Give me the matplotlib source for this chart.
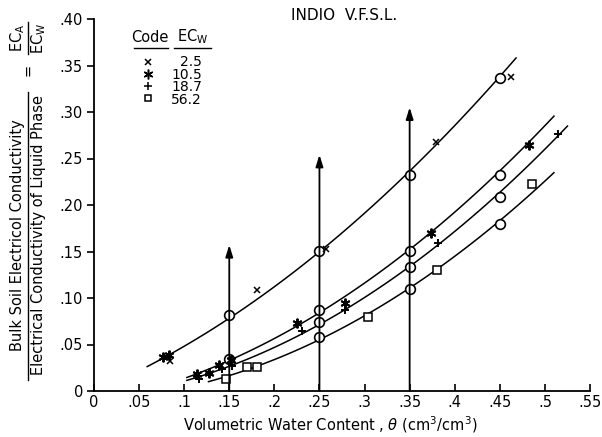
import numpy as np
import matplotlib
matplotlib.use("Agg")
import matplotlib.pyplot as plt

x_25 = [0.084, 0.181, 0.257, 0.379, 0.462]
y_25 = [0.032, 0.109, 0.153, 0.268, 0.338]
x_105 = [0.077, 0.083, 0.114, 0.128, 0.139, 0.152, 0.225, 0.278, 0.374, 0.482]
y_105 = [0.037, 0.039, 0.018, 0.019, 0.028, 0.033, 0.073, 0.095, 0.170, 0.265]
x_187 = [0.116, 0.127, 0.142, 0.153, 0.231, 0.278, 0.381, 0.515]
y_187 = [0.013, 0.018, 0.024, 0.027, 0.064, 0.087, 0.159, 0.276]
x_562 = [0.146, 0.170, 0.181, 0.304, 0.380, 0.486]
y_562 = [0.013, 0.026, 0.026, 0.080, 0.130, 0.223]

# fitted curves: points along each drawn line
curve_x = [
    [0.059, 0.15, 0.25, 0.35, 0.45, 0.468],
    [0.103, 0.15, 0.25, 0.35, 0.45, 0.51],
    [0.103, 0.15, 0.25, 0.35, 0.45, 0.525],
    [0.127, 0.25, 0.35, 0.45, 0.51],
]
curve_y = [
    [0.024, 0.082, 0.151, 0.232, 0.337, 0.361],
    [0.012, 0.035, 0.087, 0.151, 0.232, 0.299],
    [0.008, 0.030, 0.074, 0.133, 0.209, 0.288],
    [0.009, 0.058, 0.110, 0.180, 0.237],
]

# vertical arrows and the open circles on them
arrow_x = [0.15, 0.25, 0.35, 0.45]
arrow_top = [0.157, 0.254, 0.305, 0.41]
circ_x = [0.15, 0.15, 0.25, 0.25, 0.25, 0.25, 0.35, 0.35, 0.35, 0.35, 0.45, 0.45, 0.45, 0.45]
circ_y = [0.082, 0.034, 0.151, 0.087, 0.074, 0.058, 0.232, 0.151, 0.133, 0.110, 0.337, 0.232, 0.209, 0.180]

codes = ["2.5", "10.5", "18.7", "56.2"]
markers = ["x", (6, 2, 0), "+", "s"]

xticks = [0, .05, .1, .15, .2, .25, .3, .35, .4, .45, .5, .55]
xtick_labels = ["0", ".05", ".1", ".15", ".2", ".25", ".3", ".35", ".4", ".45", ".5", ".55"]
yticks = [0, .05, .10, .15, .20, .25, .30, .35, .40]
ytick_labels = ["0", ".05", ".10", ".15", ".20", ".25", ".30", ".35", ".40"]

plt.rcParams["font.family"] = "DejaVu Sans"
fig = plt.figure(figsize=(6.02, 4.37), dpi=100)
ax = fig.add_axes([94 / 602, 46 / 437, 496 / 602, 372 / 437])
ax.set_xlim(0, 0.55)
ax.set_ylim(0, 0.40)

# curves
for cx, cy in zip(curve_x, curve_y):
    p = np.polyfit(cx, cy, 2)
    xs = np.linspace(cx[0], cx[-1], 100)
    ax.plot(xs, np.polyval(p, xs), color="black", lw=1.1)

# arrows
for ax_x, top in zip(arrow_x, arrow_top):
    ax.annotate("", xy=(ax_x, top), xytext=(ax_x, 0),
                arrowprops=dict(arrowstyle="-|>,head_length=0.7,head_width=0.22",
                                color="black", lw=1.3, shrinkA=0, shrinkB=0))

ax.plot(circ_x, circ_y, "o", ms=7, mfc="white", mec="black", mew=1.2, ls="none")

ax.plot(x_25, y_25, "x", ms=4, color="black", mew=1.1, ls="none")
ax.plot(x_105, y_105, marker=(6, 2, 0), ms=7, color="black", mew=1.4, ls="none")
ax.plot(x_187, y_187, "+", ms=6, color="black", mew=1.4, ls="none")
ax.plot(x_562, y_562, "s", ms=6, mfc="white", mec="black", mew=1.1, ls="none")

for s in ["top", "right"]:
    ax.spines[s].set_visible(False)
for s in ["left", "bottom"]:
    ax.spines[s].set_linewidth(1.3)
ax.set_xticks(xticks)
ax.set_xticklabels(xtick_labels, fontsize=10.5)
ax.set_yticks(yticks)
ax.set_yticklabels(ytick_labels, fontsize=10.5)
ax.tick_params(axis="x", direction="in", length=5, width=1.2, pad=3)
ax.tick_params(axis="y", direction="out", length=5, width=1.2, pad=3)

fig.text(344 / 602, 1 - 15 / 437, "INDIO  V.F.S.L.", ha="center", va="center", fontsize=11)
fig.text(330 / 602, 1 - 425 / 437, r"Volumetric Water Content , $\theta$ (cm$^3$/cm$^3$)",
         ha="center", va="center", fontsize=10.5)

# legend block drawn by hand
fig.text(150 / 602, 1 - 37 / 437, "Code", ha="center", va="center", fontsize=10.5)
fig.text(193 / 602, 1 - 37 / 437, r"EC$_\mathregular{W}$", ha="center", va="center", fontsize=10.5)
fig.add_artist(plt.Line2D([134 / 602, 168 / 602], [1 - 48 / 437] * 2, color="black", lw=1))
fig.add_artist(plt.Line2D([174 / 602, 211 / 602], [1 - 48 / 437] * 2, color="black", lw=1))
leg_ms = [4, 7, 6, 5]
for i, m in enumerate(markers):
    yy = 1 - (62 + i * 12) / 437
    mfc = "white" if m == "s" else "black"
    fig.add_artist(plt.Line2D([148 / 602], [yy], marker=m, ms=leg_ms[i], color="black",
                              mfc=mfc, mew=1.1, ls="none"))
fig.text(202 / 602, 1 - 81 / 437, "\n".join(codes), ha="right", va="center",
         multialignment="right", fontsize=10, linespacing=0.86)

# y label as a fraction
fig.text(18 / 602, 1 - 235 / 437, "Bulk Soil Electricol Conductivity", rotation=90,
         ha="center", va="center", fontsize=10.5)
fig.text(39 / 602, 1 - 235 / 437, "Electrical Conductivity of Liquid Phase", rotation=90,
         ha="center", va="center", fontsize=10.5)
fig.add_artist(plt.Line2D([28 / 602] * 2, [1 - 380 / 437, 1 - 92 / 437], color="black", lw=1))
fig.text(28 / 602, 1 - 70 / 437, "=", rotation=90, ha="center", va="center", fontsize=10.5)
fig.text(18 / 602, 1 - 38 / 437, r"EC$_\mathregular{A}$", rotation=90, ha="center", va="center", fontsize=10.5)
fig.text(39 / 602, 1 - 38 / 437, r"EC$_\mathregular{W}$", rotation=90, ha="center", va="center", fontsize=10.5)
fig.add_artist(plt.Line2D([28 / 602] * 2, [1 - 54 / 437, 1 - 22 / 437], color="black", lw=1))

fig.savefig("out.png", dpi=100)
